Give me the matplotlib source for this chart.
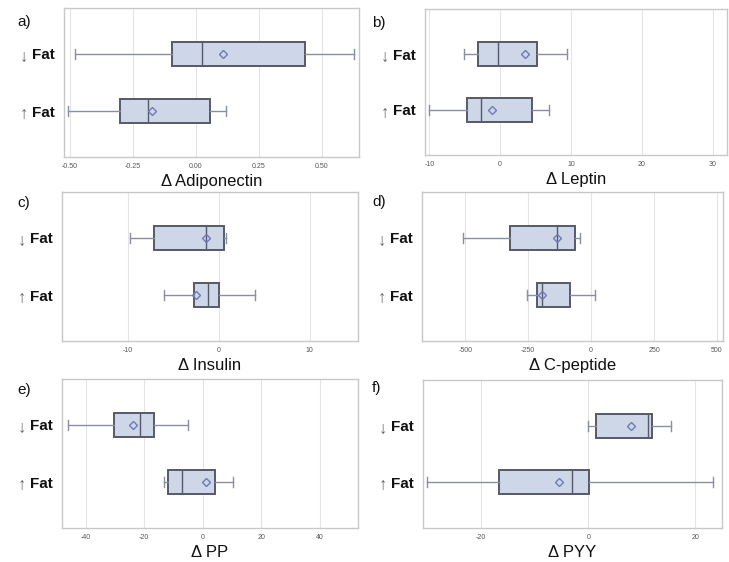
import matplotlib
matplotlib.use("Agg")
import matplotlib.pyplot as plt

plt.rcParams['font.family'] = ['Liberation Sans', 'DejaVu Sans']

groups = ["\u2191 Fat", "\u2193 Fat"]  # bottom, top

# stats per panel: [whislo, q1, med, mean, q3, whishi] for (up Fat, down Fat)
adipo_up = [-0.507, -0.30, -0.19, -0.175, 0.056, 0.118]
adipo_down = [-0.48, -0.096, 0.025, 0.108, 0.433, 0.627]
leptin_up = [-10.05, -4.7, -2.77, -1.13, 4.55, 6.9]
leptin_down = [-5.12, -3.1, -0.28, 3.57, 5.2, 9.4]
insulin_up = [-6.03, -2.74, -1.13, -2.45, 0.07, 4.02]
insulin_down = [-9.76, -7.09, -1.35, -1.35, 0.58, 0.84]
cpep_up = [-254, -216, -194, -194, -85, 17]
cpep_down = [-510, -322, -135, -135, -63, -45]
pp_up = [-13.1, -11.8, -7.2, 1.1, 4.3, 10.4]
pp_down = [-46.2, -30.3, -21.3, -23.7, -16.5, -5.1]
pyy_up = [-30.2, -16.7, -3.1, -5.5, 0.06, 23.3]
pyy_down = [0.0, 1.44, 11.1, 7.94, 11.9, 15.5]

panels = [
    ("a)", "\u0394 Adiponectin", adipo_up, adipo_down, (-0.524, 0.647), [-0.50, -0.25, 0.00, 0.25, 0.50], ["-0.50", "-0.25", "0.00", "0.25", "0.50"]),
    ("b)", "\u0394 Leptin", leptin_up, leptin_down, (-10.6, 32.0), [-10, 0, 10, 20, 30], ["-10", "0", "10", "20", "30"]),
    ("c)", "\u0394 Insulin", insulin_up, insulin_down, (-17.2, 15.3), [-10, 0, 10], ["-10", "0", "10"]),
    ("d)", "\u0394 C-peptide", cpep_up, cpep_down, (-672, 524), [-500, -250, 0, 250, 500], ["-500", "-250", "0", "250", "500"]),
    ("e)", "\u0394 PP", pp_up, pp_down, (-48.1, 53.1), [-40, -20, 0, 20, 40], ["-40", "-20", "0", "20", "40"]),
    ("f)", "\u0394 PYY", pyy_up, pyy_down, (-30.9, 25.0), [-20, 0, 20], ["-20", "0", "20"]),
]

# axes boxes in pixels: (x0, x1, ytop, ybottom)
W, H = 729, 562
boxes_px = [
    (64, 359, 8, 157),
    (425, 727, 9, 155),
    (62, 358, 192, 341),
    (422, 723, 192, 341),
    (62, 358, 379, 528),
    (423, 722, 380, 528),
]
letter_px = [(17, 22), (372, 23), (17, 203), (372, 202), (17, 390), (372, 388)]

fig = plt.figure(figsize=(W / 100, H / 100), dpi=100)

face = "#cdd7e8"
edge = "#55596a"
whisk = "#8a8ea4"
meanc = "#6f7bb8"

for (letter, label, up, down, xlim, ticks, ticklabels), (x0, x1, yt, yb), (lx, ly) in zip(panels, boxes_px, letter_px):
    ax = fig.add_axes([x0 / W, 1 - yb / H, (x1 - x0) / W, (yb - yt) / H])
    stats = []
    for s in (up, down):
        stats.append(dict(whislo=s[0], q1=s[1], med=s[2], mean=s[3], q3=s[4], whishi=s[5], fliers=[]))
    ax.bxp(stats, positions=[0, 1], widths=0.42, vert=False, showmeans=True,
           patch_artist=True, capwidths=0.18,
           boxprops=dict(facecolor=face, edgecolor=edge, linewidth=1.4),
           medianprops=dict(color=edge, linewidth=1.0),
           whiskerprops=dict(color=whisk, linewidth=1.0),
           capprops=dict(color=whisk, linewidth=1.0),
           meanprops=dict(marker='D', markerfacecolor='none', markeredgecolor=meanc,
                          markersize=4.2, markeredgewidth=1.0))
    ax.set_xlim(*xlim)
    ax.set_ylim(-0.807, 1.807)
    ax.set_xticks(ticks)
    ax.set_xticklabels(ticklabels)
    ax.tick_params(axis='x', length=0, pad=4, labelsize=5, labelcolor='#555555')
    ax.set_yticks([0, 1])
    ax.set_yticklabels(["Fat", "Fat"], fontweight='bold')
    ax.tick_params(axis='y', length=0, pad=7, labelsize=11, labelcolor='#111111')
    for yv in (0, 1):
        ax.annotate("\u2193" if yv == 1 else "\u2191", xy=(0, yv), xycoords=('axes fraction', 'data'),
                    xytext=(-26, -2.5), textcoords='offset points', ha='right', va='center',
                    fontsize=12, color='#666666')
    ax.grid(axis='x', color='#e4e4e4', linewidth=0.8)
    ax.set_axisbelow(True)
    for sp in ax.spines.values():
        sp.set_color('#c8c8c8')
        sp.set_linewidth(1.0)
    ax.set_xlabel(label, fontsize=12, labelpad=3, color='#111111')
    fig.text(lx / W, 1 - ly / H, letter, fontsize=11, ha='left', va='center', color='#111111')

fig.savefig("out.png", dpi=100)
